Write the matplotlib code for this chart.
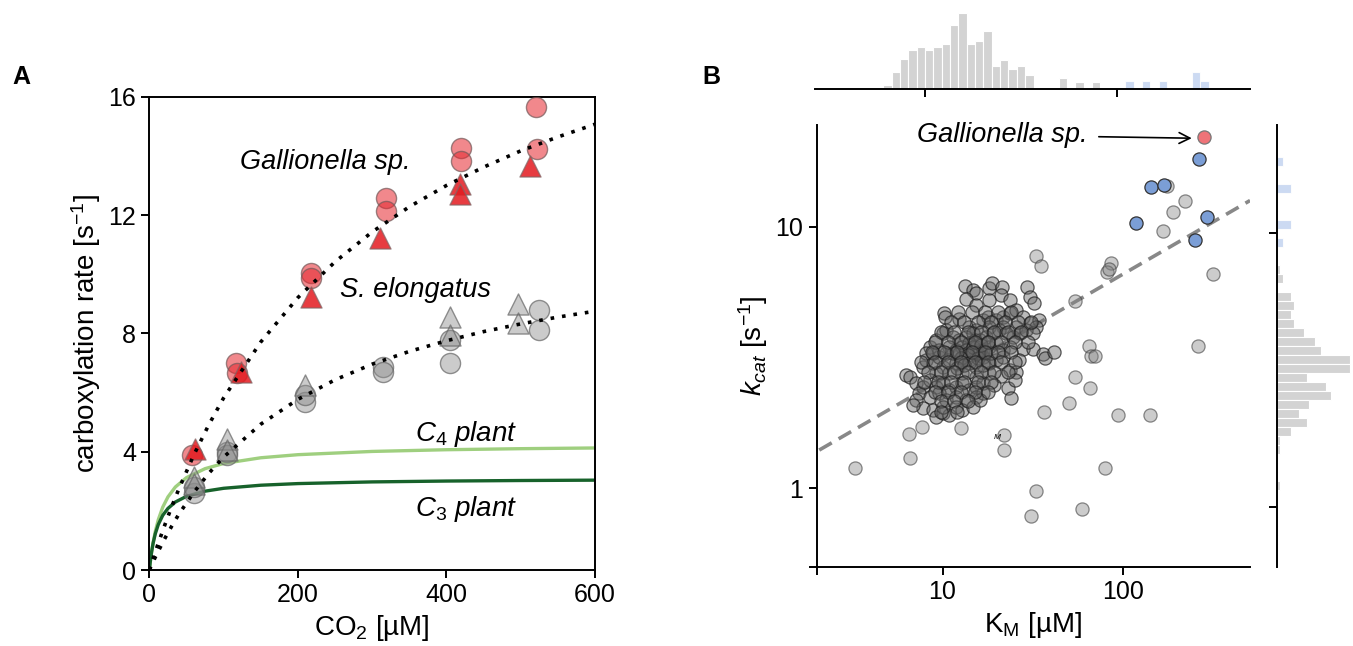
import numpy as np
import matplotlib.pyplot as plt

plt.rcParams['font.family'] = ['Liberation Sans', 'DejaVu Sans']
plt.rcParams['mathtext.fontset'] = 'custom'
plt.rcParams['mathtext.rm'] = 'Liberation Sans'
plt.rcParams['mathtext.it'] = 'Liberation Sans:italic'
plt.rcParams['mathtext.bf'] = 'Liberation Sans:bold'

# ---- panel A data ----
gal_circ_x = [58, 117, 118, 218, 218, 319, 319, 420, 420, 521, 522]
gal_circ_y = [3.89, 7.01, 6.67, 10.03, 9.86, 12.56, 12.14, 14.28, 13.83, 15.64, 14.22]
gal_tri_x = [62, 124, 218, 311, 418, 418, 512]
gal_tri_y = [4.08, 6.70, 9.24, 11.22, 13.05, 12.71, 13.67]
elo_circ_x = [60, 60, 105, 105, 210, 210, 315, 315, 405, 405, 524, 524]
elo_circ_y = [2.59, 2.80, 4.00, 3.89, 5.69, 5.92, 6.85, 6.70, 7.77, 6.99, 8.79, 8.11]
elo_tri_x = [60, 60, 105, 105, 210, 405, 405, 496, 496]
elo_tri_y = [3.15, 2.90, 4.42, 4.06, 6.25, 8.56, 7.94, 8.99, 8.36]

fit_co2 = [0, 5, 10, 20, 30, 40, 60, 80, 100, 150, 200, 250, 300, 350, 400, 450, 500, 550, 600]
gal_fit = [0, 0.39, 0.76, 1.47, 2.14, 2.76, 3.90, 4.91, 5.82, 7.71, 9.21, 10.42, 11.43, 12.28,
           13.0, 13.62, 14.17, 14.64, 15.07]
elo_fit = [0, 0.28, 0.54, 1.03, 1.48, 1.90, 2.63, 3.27, 3.82, 4.93, 5.77, 6.43, 6.96, 7.39,
           7.75, 8.06, 8.32, 8.55, 8.75]

plant_co2 = [0, 1, 2, 3, 5, 8, 12, 18, 25, 35, 50, 75, 100, 150, 200, 300, 400, 500, 600]
c3_rate = [0, 0.235, 0.437, 0.612, 0.901, 1.228, 1.537, 1.848, 2.083, 2.299, 2.492, 2.666,
           2.763, 2.867, 2.922, 2.979, 3.008, 3.026, 3.038]
c4_rate = [0, 0.224, 0.425, 0.607, 0.924, 1.308, 1.70, 2.125, 2.471, 2.807, 3.125, 3.427,
           3.602, 3.795, 3.899, 4.009, 4.067, 4.102, 4.126]

# ---- panel B data ----
km_cluster = [13.4, 14.8, 15.4, 18.2, 18.8, 21.4, 21.1, 23.6, 29.3, 30.4, 32.1, 13.5, 15.4, 18.2,
              10.2, 10.3, 12.4, 16.8, 17.8, 19.8, 21.6, 23.6, 25.7, 28.0, 30.4, 34.4, 33.1, 18.2,
              21.6, 25.7, 14.1, 15.4, 8.5, 9.2, 10.0, 10.5, 11.4, 12.4, 13.5, 14.8, 16.1, 17.5,
              19.0, 20.7, 22.6, 24.6, 26.8, 29.2, 31.7, 10.9, 11.9, 12.9, 14.1, 15.4, 16.8, 18.2,
              19.8, 21.6, 23.6, 28.0, 31.7, 36.1, 37.0, 41.7, 6.3, 6.6, 7.8, 8.1, 8.9, 9.6, 10.0,
              10.9, 11.9, 12.9, 14.1, 15.4, 16.8, 18.2, 19.8, 21.6, 23.6, 26.6, 25.4, 9.2, 10.9,
              12.9, 15.4, 18.2, 21.1, 8.1, 12.4, 15.4, 7.1, 7.8, 8.5, 9.2, 10.0, 10.9, 11.9, 12.9,
              14.1, 15.4, 16.8, 19.4, 23.1, 25.3, 7.45, 8.5, 9.6, 10.5, 11.9, 13.5, 15.4, 16.8,
              24.1, 7.1, 7.8, 6.9, 8.9, 9.2, 10.0, 10.9, 11.9, 12.9, 14.8, 16.1, 10.0, 13.5, 14.8,
              16.1, 14.8, 13.8, 15.7, 17.1, 12.6, 15.1, 16.4, 17.8, 18.6, 14.1, 16.8, 12.1, 13.2,
              11.4, 10.5, 9.6, 8.9,
              12.2, 14.5, 17.1, 20.2, 24.1,
              11.1, 13.2, 15.7, 18.6, 22.1, 26.2, 31.0,
              9.8, 11.6, 13.8, 16.4, 19.4, 23.1, 27.4,
              9.1, 10.7, 12.6, 15.1, 17.8, 21.1, 25.1, 29.8,
              8.7, 10.2, 12.1, 14.5, 17.1, 20.2, 24.1,
              7.6, 9.1, 10.7, 12.6, 15.1, 17.8, 21.1, 25.1,
              8.3, 9.8, 11.6, 13.8, 16.4, 19.4, 23.1,
              7.9, 9.4, 11.1, 13.2, 15.7, 18.6,
              9.1, 10.7, 12.6, 15.1, 17.8,
              9.8, 11.6, 13.8,
              9.8, 12.1]
kcat_cluster = [5.95, 5.73, 5.56, 5.81, 6.07, 5.86, 5.48, 5.25, 5.86, 5.40, 5.09, 5.30, 5.02, 5.25,
                4.70, 4.53, 4.43, 4.40, 4.53, 4.40, 4.53, 4.67, 4.81, 4.53, 4.27, 4.40, 4.15, 4.15,
                4.15, 4.15, 4.15, 4.03, 3.48, 3.69, 3.91, 4.03, 3.80, 3.69, 3.80, 3.91, 3.69, 3.80,
                3.91, 4.03, 3.91, 3.80, 3.91, 4.03, 3.91, 3.48, 3.38, 3.48, 3.58, 3.48, 3.38, 3.48,
                3.58, 3.38, 3.48, 3.40, 3.40, 3.25, 3.14, 3.31, 2.71, 2.67, 2.92, 3.10, 3.01, 3.19,
                2.92, 3.10, 3.01, 3.19, 3.10, 2.92, 3.19, 3.01, 3.10, 3.19, 2.83, 3.10, 2.79, 2.75,
                2.75, 2.75, 2.67, 2.75, 2.69, 3.28, 3.28, 3.28, 2.52, 2.45, 2.60, 2.45, 2.52, 2.38,
                2.45, 2.52, 2.38, 2.45, 2.52, 2.49, 2.41, 2.60, 2.31, 2.24, 2.31, 2.18, 2.24, 2.18,
                2.24, 2.31, 2.21, 2.18, 2.02, 2.08, 1.99, 1.88, 1.94, 1.91, 2.05, 1.99, 2.05, 2.18,
                2.05, 3.38, 3.28, 3.38, 3.48, 3.23, 3.14, 3.28, 3.14, 3.69, 3.53, 3.63, 3.28, 3.01,
                2.96, 2.88, 2.96, 3.28, 3.28, 3.38, 3.28,
                4.74, 4.74, 4.74, 4.74, 4.74,
                4.33, 4.33, 4.33, 4.33, 4.33, 4.33, 4.33,
                3.97, 3.97, 3.97, 3.97, 3.97, 3.97, 3.97,
                3.63, 3.63, 3.63, 3.63, 3.63, 3.63, 3.63, 3.63,
                3.33, 3.33, 3.33, 3.33, 3.33, 3.33, 3.33,
                3.05, 3.05, 3.05, 3.05, 3.05, 3.05, 3.05, 3.05,
                2.79, 2.79, 2.79, 2.79, 2.79, 2.79, 2.79,
                2.56, 2.56, 2.56, 2.56, 2.56, 2.56,
                2.34, 2.34, 2.34, 2.34, 2.34,
                2.15, 2.15, 2.15,
                1.96, 1.96]
km_other = [175, 220, 191, 167, 318, 262, 85.5, 81.8, 84, 32.9, 35.2, 54.6, 64.8, 67, 70, 54.6,
            65.6, 50.3, 36.4, 94.6, 141, 79.4, 33.2, 31.1, 59.7, 3.26, 6.64, 6.53, 7.74, 12.7, 22, 22]
kcat_other = [14.3, 12.5, 11.4, 9.6, 6.6, 3.5, 7.3, 6.7, 6.9, 7.7, 7.1, 5.2, 3.5, 3.2, 3.2, 2.67,
              2.41, 2.11, 1.96, 1.91, 1.91, 1.2, 0.98, 0.785, 0.835, 1.2, 1.30, 1.61, 1.71, 1.70,
              1.60, 1.40]
km_blue = [265, 144, 169, 119, 292, 251]
kcat_blue = [18.1, 14.2, 14.4, 10.3, 10.9, 8.9]
km_gal = [282]
kcat_gal = [22.0]
trend_km = [2.07, 508]
trend_kcat = [1.40, 12.6]

# marginal histograms (log10 bins)
top_edges = 0.478 + 0.0435 * np.arange(47)
top_gray = [5, 0, 0, 0, 0, 0, 0, 13, 53, 90, 118, 127, 118, 127, 137, 193, 230, 137, 146, 174,
            71, 89, 62, 71, 43, 0, 5, 0, 34, 5, 23, 5, 23, 5, 5, 0, 0, 0, 5, 5, 5, 5, 5, 0, 5, 0, 5]
top_blue = [0] * 36 + [25, 0, 25, 0, 25, 0, 0, 0, 53, 25, 0]
right_centers = 0.538 - 0.03285 * np.arange(-22, 21)
right_gray = [0, 0, 0, 3, 0, 3, 3, 0, 3, 0, 0, 3, 10, 19, 0, 42, 50, 43, 50, 82, 113, 130, 217,
              217, 91, 145, 161, 97, 67, 91, 43, 10, 10, 0, 3, 3, 10, 0, 0, 3, 0, 3, 3]
right_blue = [19, 0, 0, 42, 0, 0, 0, 42, 0, 19] + [0] * 33

fig = plt.figure(figsize=(13.53, 6.46), dpi=100)

# ================= panel A =================
axA = fig.add_axes([0.1104, 0.1176, 0.3294, 0.7327])
axA.plot(plant_co2, c4_rate, color='#9fcf7f', lw=2.4, zorder=1)
axA.plot(plant_co2, c3_rate, color='#17622b', lw=2.4, zorder=1)
axA.plot(fit_co2, gal_fit, color='black', lw=2.6, ls=(0, (1, 2.2)), zorder=4)
axA.plot(fit_co2, elo_fit, color='black', lw=2.6, ls=(0, (1, 2.2)), zorder=4)
axA.scatter(elo_circ_x, elo_circ_y, s=210, marker='o', facecolor=(0.55, 0.55, 0.55, 0.45),
            edgecolor=(0.4, 0.4, 0.4, 0.7), lw=1, zorder=2)
axA.scatter(elo_tri_x, elo_tri_y, s=230, marker='^', facecolor=(0.55, 0.55, 0.55, 0.45),
            edgecolor=(0.4, 0.4, 0.4, 0.7), lw=1, zorder=2)
axA.scatter(gal_circ_x, gal_circ_y, s=210, marker='o', facecolor=(0.9, 0.15, 0.18, 0.55),
            edgecolor=(0.45, 0.35, 0.35, 0.7), lw=1, zorder=3)
axA.scatter(gal_tri_x, gal_tri_y, s=230, marker='^', facecolor=(0.89, 0.1, 0.12, 0.85),
            edgecolor=(0.5, 0.4, 0.4, 0.7), lw=1, zorder=3)
axA.set_xlim(0, 600)
axA.set_ylim(0, 16)
axA.set_xticks([0, 200, 400, 600])
axA.set_yticks([0, 4, 8, 12, 16])
axA.tick_params(direction='out', length=6, width=1.4, labelsize=18)
for sp in axA.spines.values():
    sp.set_linewidth(1.4)
axA.set_xlabel('CO$_2$ [µM]', fontsize=20)
axA.set_ylabel('carboxylation rate [s$^{-1}$]', fontsize=20)
axA.text(122, 13.8, 'Gallionella sp.', style='italic', fontsize=19.5, va='center')
axA.text(257, 9.47, 'S. elongatus', style='italic', fontsize=19.5, va='center')
axA.text(358, 4.6, r'$\mathit{C_4\ plant}$', fontsize=20, va='center')
axA.text(358, 2.05, r'$\mathit{C_3\ plant}$', fontsize=20, va='center')

# ================= panel B =================
axB = fig.add_axes([0.6035, 0.1223, 0.3204, 0.6842])
axB.set_xscale('log')
axB.set_yscale('log')
axB.plot(trend_km, trend_kcat, color='#888888', lw=2.6, ls=(0, (4, 2.2)), zorder=1)
axB.scatter(km_cluster, kcat_cluster, s=90, facecolor=(0.4, 0.4, 0.4, 0.45),
            edgecolor=(0.12, 0.12, 0.12, 0.72), lw=0.9, zorder=2)
axB.scatter(km_other, kcat_other, s=90, facecolor=(0.5, 0.5, 0.5, 0.4),
            edgecolor=(0.25, 0.25, 0.25, 0.6), lw=0.9, zorder=2)
axB.scatter(km_blue, kcat_blue, s=90, facecolor='#7b9ed6', edgecolor='#333333', lw=0.9, zorder=3)
axB.scatter(km_gal, kcat_gal, s=90, facecolor='#ef7378', edgecolor='#777777', lw=0.9, zorder=3)
axB.set_xlim(2.0, 508)
axB.set_ylim(0.5, 24.5)
axB.set_xticks([2.0, 10, 100])
axB.set_xticklabels(['', '10', '100'])
axB.set_yticks([0.5, 1, 10])
axB.set_yticklabels(['', '1', '10'])
axB.minorticks_off()
axB.tick_params(direction='out', length=6, width=1.4, labelsize=18)
axB.spines['top'].set_visible(False)
axB.spines['right'].set_visible(False)
for sp in ['left', 'bottom']:
    axB.spines[sp].set_linewidth(1.4)
axB.set_xlabel('K$_\\mathregular{M}$ [µM]', fontsize=20)
axB.set_ylabel('$k_{cat}$ [s$^{-1}$]', fontsize=20)
axB.annotate('Gallionella sp.', xy=(250, 21.8), xytext=(21.5, 22.4), style='italic',
             fontsize=19.5, ha='center', va='center',
             arrowprops=dict(arrowstyle='->', color='black', lw=1.2, shrinkA=6, shrinkB=2))
axB.text(20.2, 1.57, 'M', style='italic', fontsize=6, ha='center', va='center')

# top marginal histogram
axT = fig.add_axes([0.6024, 0.8618, 0.3215, 0.1227])
axT.bar(top_edges, top_gray, width=0.0435, align='edge', color='#d3d3d3', edgecolor='white', lw=0.8)
axT.bar(top_edges, top_blue, width=0.0435, align='edge', color='#c3d4f0', edgecolor='white', lw=0.8,
        alpha=0.85)
axT.set_xlim(0.426, 2.695)
axT.set_ylim(0, 238)
axT.set_xticks([1, 2])
axT.set_xticklabels([])
axT.set_yticks([])
axT.tick_params(direction='out', length=6, width=1.4)
for sp in ['top', 'right', 'left']:
    axT.spines[sp].set_visible(False)
axT.spines['bottom'].set_linewidth(1.4)

# right marginal histogram
axR = fig.add_axes([0.9436, 0.1228, 0.0564, 0.6837])
axR.barh(right_centers, right_gray, height=0.0328, color='#d3d3d3', edgecolor='white', lw=0.8)
axR.barh(right_centers, right_blue, height=0.0328, color='#c3d4f0', edgecolor='white', lw=0.8,
         alpha=0.85)
axR.set_ylim(-0.219, 1.393)
axR.set_xlim(0, 226)
axR.set_yticks([0, 1])
axR.set_yticklabels([])
axR.set_xticks([])
axR.tick_params(direction='out', length=6, width=1.4)
for sp in ['top', 'right', 'bottom']:
    axR.spines[sp].set_visible(False)
axR.spines['left'].set_linewidth(1.4)

fig.text(0.009, 0.87, 'A', fontsize=18, fontweight='bold')
fig.text(0.519, 0.87, 'B', fontsize=18, fontweight='bold')

fig.savefig('out.png', dpi=100)
